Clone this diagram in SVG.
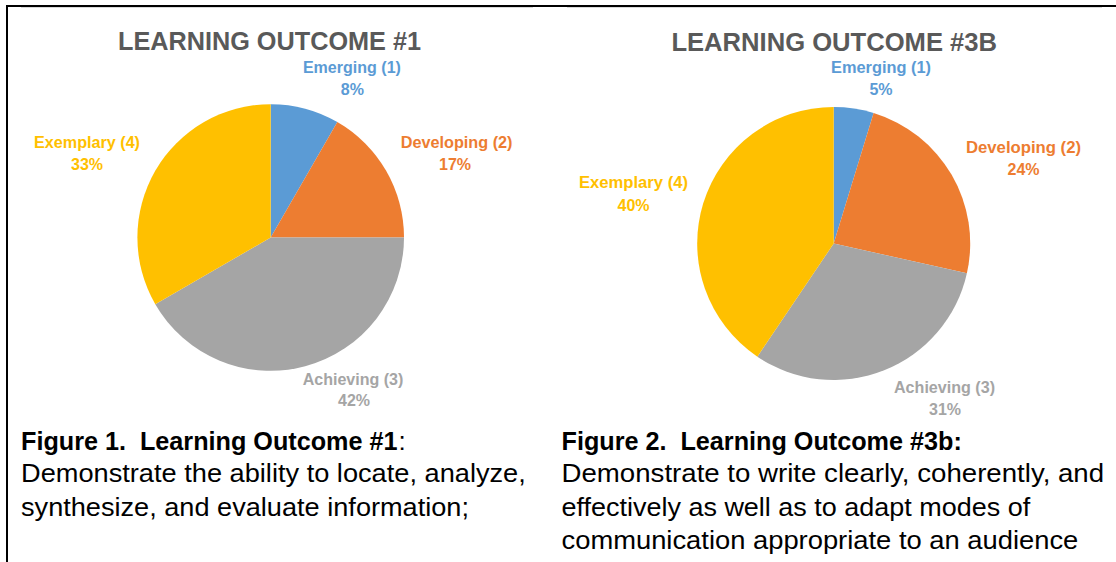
<svg xmlns="http://www.w3.org/2000/svg" width="1116" height="562" viewBox="0 0 1116 562">
<style>
  .title { font-family: "Liberation Sans", Arial, sans-serif; font-weight: bold; font-size: 25.5px; fill: #595959; }
  .lbl { font-family: "Liberation Sans", Arial, sans-serif; font-weight: bold; font-size: 16px; }
  .mid { text-anchor: middle; }
  .cap { font-family: "Liberation Sans", Arial, sans-serif; font-size: 26px; fill: #000000; }
  .b { font-weight: bold; font-size: 25.2px; }
  .c1 { fill: #5B9BD5; }
  .c2 { fill: #ED7D31; }
  .c3 { fill: #A5A5A5; }
  .c4 { fill: #FFC000; }
  .frame { stroke: #000000; stroke-width: 2; fill: none; }
  .chartedge { stroke: #D9D9D9; stroke-width: 1; fill: none; }
</style>
<rect x="0" y="0" width="1116" height="562" fill="#FFFFFF"/>

<g id="frame">
  <line class="frame" x1="6" y1="6" x2="1116" y2="6"/>
  <line class="frame" x1="7" y1="5" x2="7" y2="562"/>
  <line class="chartedge" x1="21" y1="7.5" x2="533" y2="7.5"/>
  <line class="chartedge" x1="567" y1="7.5" x2="1102" y2="7.5"/>
</g>

<g id="chart1">
  <text class="title" x="118" y="50" textLength="303" lengthAdjust="spacingAndGlyphs">LEARNING OUTCOME #1</text>
  <g id="chart1-slices">
    <path class="c1" d="M270.7,237.5 L270.7,104.2 A133.3,133.3 0 0 1 337.35,122.06 Z"/>
    <path class="c2" d="M270.7,237.5 L337.35,122.06 A133.3,133.3 0 0 1 404,237.5 Z"/>
    <path class="c3" d="M270.7,237.5 L404,237.5 A133.3,133.3 0 0 1 155.26,304.15 Z"/>
    <path class="c4" d="M270.7,237.5 L155.26,304.15 A133.3,133.3 0 0 1 270.7,104.2 Z"/>
  </g>
  <g id="chart1-labels">
    <text class="lbl c1" x="302.9" y="72.7" textLength="98" lengthAdjust="spacingAndGlyphs">Emerging (1)</text>
    <text class="lbl c1 mid" x="352.4" y="95">8%</text>
    <text class="lbl c2" x="400.7" y="148.3" textLength="111.8" lengthAdjust="spacingAndGlyphs">Developing (2)</text>
    <text class="lbl c2 mid" x="455" y="170">17%</text>
    <text class="lbl c4" x="34" y="148.3" textLength="106" lengthAdjust="spacingAndGlyphs">Exemplary (4)</text>
    <text class="lbl c4 mid" x="87" y="170">33%</text>
    <text class="lbl c3" x="302.7" y="384.5" textLength="100.6" lengthAdjust="spacingAndGlyphs">Achieving (3)</text>
    <text class="lbl c3 mid" x="354" y="406">42%</text>
  </g>
</g>

<g id="chart2">
  <text class="title" x="671.4" y="51" textLength="325.7" lengthAdjust="spacingAndGlyphs">LEARNING OUTCOME #3B</text>
  <g id="chart2-slices">
    <path class="c1" d="M833.7,243.5 L833.7,107 A136.5,136.5 0 0 1 873.61,112.96 Z"/>
    <path class="c2" d="M833.7,243.5 L873.61,112.96 A136.5,136.5 0 0 1 966.91,273.28 Z"/>
    <path class="c3" d="M833.7,243.5 L966.91,273.28 A136.5,136.5 0 0 1 757.37,356.66 Z"/>
    <path class="c4" d="M833.7,243.5 L757.37,356.66 A136.5,136.5 0 0 1 833.7,107 Z"/>
  </g>
  <g id="chart2-labels">
    <text class="lbl c1" x="831" y="73.3" textLength="100" lengthAdjust="spacingAndGlyphs">Emerging (1)</text>
    <text class="lbl c1 mid" x="881" y="95">5%</text>
    <text class="lbl c2" x="966" y="153.3" textLength="115" lengthAdjust="spacingAndGlyphs">Developing (2)</text>
    <text class="lbl c2 mid" x="1023.5" y="175">24%</text>
    <text class="lbl c4" x="579" y="188.3" textLength="109" lengthAdjust="spacingAndGlyphs">Exemplary (4)</text>
    <text class="lbl c4 mid" x="633.5" y="210.5">40%</text>
    <text class="lbl c3" x="894" y="393" textLength="101" lengthAdjust="spacingAndGlyphs">Achieving (3)</text>
    <text class="lbl c3 mid" x="945" y="415">31%</text>
  </g>
</g>

<g id="caption1">
  <text class="cap b" x="21" y="450">Figure 1.&#160; Learning Outcome #1</text>
  <text class="cap" x="398.5" y="450">:</text>
  <text class="cap" x="21" y="482" textLength="504.8" lengthAdjust="spacingAndGlyphs">Demonstrate the ability to locate, analyze,</text>
  <text class="cap" x="21" y="515.5" textLength="448" lengthAdjust="spacingAndGlyphs">synthesize, and evaluate information;</text>
</g>

<g id="caption2">
  <text class="cap b" x="561.5" y="450">Figure 2.&#160; Learning Outcome #3b:</text>
  <text class="cap" x="561.5" y="482" textLength="542.6" lengthAdjust="spacingAndGlyphs">Demonstrate to write clearly, coherently, and</text>
  <text class="cap" x="561.5" y="515.5" textLength="468.7" lengthAdjust="spacingAndGlyphs">effectively as well as to adapt modes of</text>
  <text class="cap" x="561.5" y="549" textLength="516.8" lengthAdjust="spacingAndGlyphs">communication appropriate to an audience</text>
</g>
</svg>
